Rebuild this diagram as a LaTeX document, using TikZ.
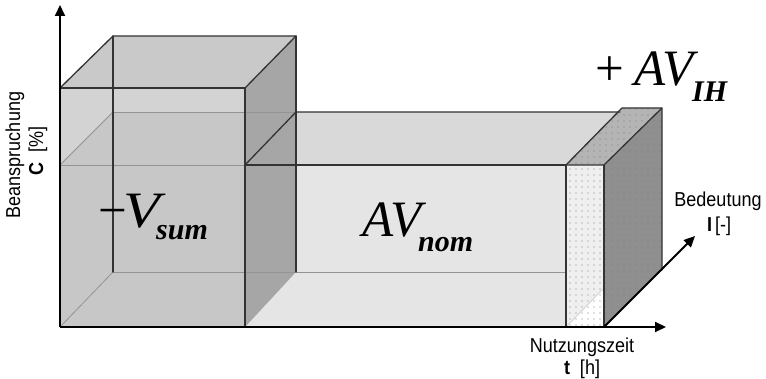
\documentclass[tikz,border=0pt]{standalone}
\usepackage{fontspec}
\setmainfont{Liberation Sans}
\newfontfamily\tnr{Liberation Serif}
\usetikzlibrary{arrows.meta,patterns.meta}
\definecolor{nomfront}{HTML}{E5E5E5}
\definecolor{nomtop}{HTML}{D9D9D9}
\definecolor{cubelight}{HTML}{D3D3D3}
\definecolor{cubedark}{HTML}{C7C7C7}
\definecolor{cubetop}{HTML}{C9C9C9}
\definecolor{cubeside}{HTML}{A6A6A6}
\definecolor{slabfront}{HTML}{EFEFEF}
\definecolor{slabtop}{HTML}{B4B4B4}
\definecolor{slabside}{HTML}{8F8F8F}
\newcommand{\tallsans}[1]{\scalebox{1}[1.12]{#1}}
\begin{document}
\begin{tikzpicture}[x=1pt,y=-1pt,
  edge/.style={draw=black!80, line width=1.3pt, line join=round, line cap=round},
  hid/.style={draw=black!42, line width=0.8pt},
  axis/.style={draw=black, line width=2pt, -{Triangle[length=11pt,width=10pt]}},
  lab/.style={font=\fontsize{18}{20}\selectfont, inner sep=0pt},
  bigm/.style={font=\tnr\fontsize{51}{51}\selectfont, inner sep=0pt, anchor=base west},
  subm/.style={font=\tnr\fontsize{30}{30}\selectfont\bfseries\itshape, inner sep=0pt, anchor=base west},
  dotfill/.style={pattern={Dots[distance=6pt,radius=0.6pt]}, pattern color=black!50},
]
\useasboundingbox (0,0) rectangle (766,379);
% named corners
\coordinate (O) at (60,327);
\coordinate (Ytip) at (60,5);
\coordinate (Xtip) at (666,327);
\coordinate (Zs) at (604,327);
\coordinate (Ztip) at (695,236);

% ---- AV_nom box fills
\fill[nomfront] (245,165) -- (566,165) -- (566,327) -- (245,327) -- cycle;
\fill[nomtop] (245,165) -- (296,112) -- (620,112) -- (566,165) -- cycle;

% ---- V_sum cube fills
\fill[cubelight] (60,88) -- (245,88) -- (245,327) -- (60,327) -- cycle;
\fill[cubedark] (60,165) -- (113,112) -- (245,112) -- (245,327) -- (60,327) -- cycle;
\fill[cubetop] (60,88) -- (113,36) -- (296,36) -- (245,88) -- cycle;
\fill[cubeside] (245,88) -- (296,36) -- (296,272) -- (245,327) -- cycle;

% ---- AV_IH slab fills
\fill[slabfront] (566,165) -- (604,165) -- (604,327) -- (566,327) -- cycle;
\fill[white] (566,327) -- (604,327) -- (604,288) -- cycle;
\fill[slabtop] (566,165) -- (622,108) -- (662,108) -- (604,165) -- cycle;
\fill[slabside] (604,165) -- (662,108) -- (662,270) -- (604,327) -- cycle;
\fill[dotfill] (566,165) -- (622,108) -- (662,108) -- (662,270) -- (604,327) -- (566,327) -- cycle;

% ---- hidden (thin grey) edges
\draw[hid] (60,165) -- (245,165);
\draw[hid] (113,112) -- (296,112);
\draw[hid] (60,165) -- (113,112);
\draw[hid] (113,272) -- (566,272);
\draw[hid] (60,327) -- (113,272);
\draw[draw=black!20, line width=0.7pt] (566,327) -- (604,288);

% ---- visible edges
\draw[edge] (60,88) -- (245,88) -- (245,327);
\draw[edge] (60,88) -- (113,36) -- (296,36) -- (245,88);
\draw[edge] (296,36) -- (296,272);
\draw[edge] (113,36) -- (113,272);
\draw[edge] (245,165) -- (296,112) -- (620,112);
\draw[edge] (245,165) -- (566,165) -- (566,327);
\draw[edge] (566,165) -- (622,108) -- (662,108) -- (662,270);
\draw[edge] (566,165) -- (604,165) -- (662,108);
\draw[edge] (604,165) -- (604,327);

% ---- axes
\draw[axis] (O) -- (Ytip);
\draw[axis] (O) -- (Xtip);
\draw[axis] (Zs) -- (Ztip);

% ---- axis labels
\node[lab, rotate=90] (ylab1) at (15,155) {\tallsans{Beanspruchung}};
\node[lab, rotate=90] (ylab2) at (38,151) {\tallsans{\textbf{C}\ \ [\%]}};
\node[lab] (xlab1) at (582,347) {\tallsans{Nutzungszeit}};
\node[lab] (xlab2) at (582,369) {\tallsans{\textbf{t}\ \ [h]}};
\node[lab] (zlab1) at (718,201) {\tallsans{Bedeutung}};
\node[lab] (zlab2) at (719,226) {\tallsans{\textbf{I}\,[-]}};

% ---- volume labels
\node[bigm] (minus) at (98.5,228) {−};
\node[bigm] (vsumV) at (123,228) {\scalebox{1.18}[1]{\itshape V}};
\node[subm] (vsumS) at (156,240) {sum};
\node[bigm] (nomAV) at (362,237) {\itshape AV};
\node[subm] (nomS) at (418,252) {nom};
\node[bigm] (plus) at (595.5,86) {+};
\node[bigm] (ihAV) at (634,86) {\itshape AV};
\node[subm] (ihS) at (692,102) {IH};
\end{tikzpicture}
\end{document}
